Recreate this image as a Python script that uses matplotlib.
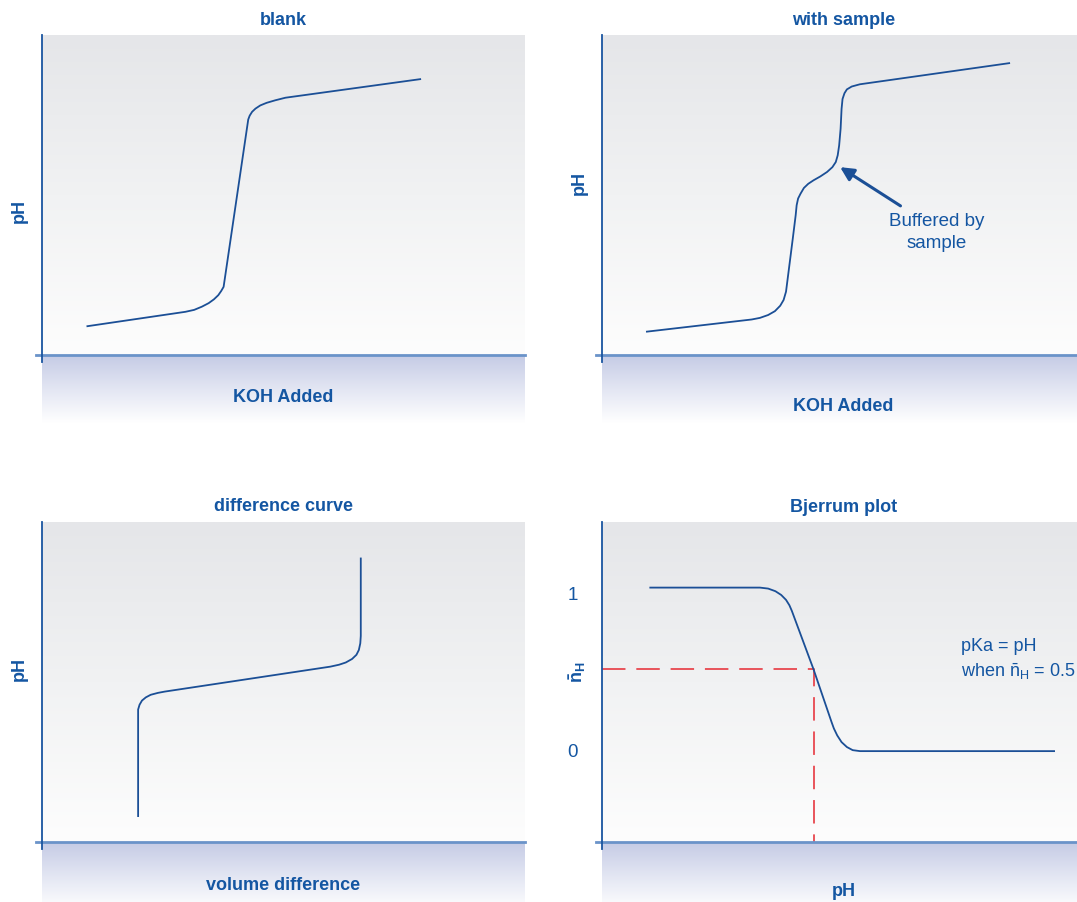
import numpy as np
import matplotlib
matplotlib.use("Agg")
import matplotlib.pyplot as plt
from matplotlib.lines import Line2D
from matplotlib.colors import LinearSegmentedColormap

plt.rcParams['font.family'] = ['Liberation Sans', 'DejaVu Sans']
plt.rcParams['mathtext.fontset'] = 'custom'
plt.rcParams['mathtext.rm'] = 'Liberation Sans'
plt.rcParams['mathtext.it'] = 'Liberation Sans'
plt.rcParams['mathtext.bf'] = 'Liberation Sans:bold'

# titration curves, arbitrary units (0-100 on both axes)
blank_x = [9.4, 29.7, 31.5, 33.1, 34.5, 35.6, 36.5, 37.1, 37.6,
           42.7, 43.0, 43.5, 44.2, 45.2, 46.5, 48.3, 50.4, 78.3]
blank_y = [9.0, 13.5, 14.1, 15.1, 16.2, 17.4, 18.7, 20.0, 21.3,
           73.6, 74.8, 76.0, 77.0, 78.0, 78.8, 79.6, 80.4, 86.2]

sample_x = [9.3, 31.0, 32.7, 34.4, 35.8, 36.9, 37.6, 38.1, 38.8, 39.5, 40.1, 40.3,
            40.6, 41.1, 41.8, 42.7, 43.8, 45.2, 46.6, 47.7, 48.4, 48.8, 49.1, 49.4,
            49.6, 49.8, 50.2, 50.7, 51.7, 53.4, 84.3]
sample_y = [7.3, 11.1, 11.6, 12.5, 13.7, 15.4, 17.2, 19.8, 28.1, 36.4, 43.7, 46.8,
            48.9, 50.4, 52.2, 53.5, 54.6, 55.8, 57.2, 58.7, 60.3, 62.4, 65.5, 70.7,
            76.9, 80.0, 81.8, 83.0, 83.9, 84.6, 91.2]

diff_x = [19.9, 19.9, 19.9, 20.2, 20.7, 21.5, 22.5, 24.0, 25.4, 59.7, 61.5, 62.9,
          64.2, 65.1, 65.6, 65.9, 66.0, 66.0]
diff_y = [8.1, 39.5, 41.4, 42.9, 44.2, 45.2, 46.0, 46.6, 47.0, 54.8, 55.4, 56.1,
          57.2, 58.5, 60.0, 62.1, 64.4, 88.6]

# Bjerrum plot: average protonation vs pH
bjerrum_x = [10.0, 32.7, 34.4, 35.9, 37.1, 38.1, 38.8, 39.3, 43.8, 47.5, 48.0,
             48.7, 49.6, 50.7, 51.9, 53.4, 93.6]
bjerrum_nh = [1.0, 1.0, 0.994, 0.978, 0.955, 0.925, 0.892, 0.858, 0.5, 0.18, 0.139,
              0.096, 0.055, 0.025, 0.006, 0.0, 0.0]
pka_x = 43.8
half_nh = 0.5

buffer_point = (49.3, 58.7)

TXT = '#1456a2'
LINE = '#1b4f96'
SPINE = '#1a55a0'
AXLINE = '#6a93c9'
RED = '#e8474f'

W, H = 1077, 903
fig = plt.figure(figsize=(W / 100, H / 100), dpi=100)
fig.patch.set_facecolor('white')

gray_cmap = LinearSegmentedColormap.from_list('g', ['#fdfdfd', '#f1f2f3', '#e5e6e9'])
band_cmap = LinearSegmentedColormap.from_list('b', ['#ffffff', '#e3e6f3', '#c5cbe5'])
grad = np.linspace(0, 1, 256).reshape(-1, 1)


def fx(px):
    return px / W


def fy(py):
    return 1 - py / H


def panel(left, axis_y, title, title_y, xlabel, xlabel_y, ylabel, ylabel_xy, ylim=(0, 100)):
    ax = fig.add_axes([fx(left), fy(axis_y), 483 / W, 320 / H])
    ax.set_xlim(0, 100)
    ax.set_ylim(*ylim)
    ax.imshow(grad, cmap=gray_cmap, extent=(0, 1, 0, 1), transform=ax.transAxes,
              aspect='auto', origin='lower', zorder=0)
    for s in ax.spines.values():
        s.set_visible(False)
    ax.set_xticks([])
    ax.set_yticks([])

    # shaded band under the x axis
    band = fig.add_axes([fx(left), fy(axis_y + 68), 483 / W, 68 / H])
    band.imshow(grad, cmap=band_cmap, extent=(0, 1, 0, 1), aspect='auto', origin='lower')
    band.set_axis_off()

    fig.add_artist(Line2D([fx(left - 6), fx(left + 483)], [fy(axis_y), fy(axis_y)],
                          color=AXLINE, lw=2.0, transform=fig.transFigure, zorder=5))
    fig.add_artist(Line2D([fx(left), fx(left)], [fy(axis_y - 320), fy(axis_y + 7)],
                          color=SPINE, lw=1.3, transform=fig.transFigure, zorder=6))

    cx = left + 241.5
    fig.text(fx(cx), fy(title_y), title, ha='center', va='center', fontsize=13,
             fontweight='bold', color=TXT)
    fig.text(fx(cx), fy(xlabel_y), xlabel, ha='center', va='center', fontsize=13,
             fontweight='bold', color=TXT, zorder=7)
    fig.text(fx(ylabel_xy[0]), fy(ylabel_xy[1]), ylabel, ha='center', va='center',
             fontsize=13, fontweight='bold', color=TXT, rotation=90)
    return ax


ax1 = panel(42, 356, 'blank', 20.5, 'KOH Added', 398, 'pH', (19, 211))
ax1.plot(blank_x, blank_y, color=LINE, lw=1.3, solid_joinstyle='round')

ax2 = panel(602, 356, 'with sample', 20.5, 'KOH Added', 407, 'pH', (579, 183))
ax2.plot(sample_x, sample_y, color=LINE, lw=1.3, solid_joinstyle='round')
ax2.annotate('', xy=buffer_point, xytext=(61.8, 46.6),
             arrowprops=dict(arrowstyle='-|>', color=LINE, lw=2.2, mutation_scale=20,
                             shrinkA=0, shrinkB=0))
ax2.text(69.3, 38.6, 'Buffered by\nsample', ha='center', va='center', fontsize=13.5,
         color=TXT, linespacing=1.35)

ax3 = panel(42, 843, 'difference curve', 507, 'volume difference', 886, 'pH', (19, 669))
ax3.plot(diff_x, diff_y, color=LINE, lw=1.3, solid_joinstyle='round')

# n_H = 0 sits at 28.4% of the height, n_H = 1 at 79.5%
lo = -0.284 / 0.511
hi = (1 - 0.284) / 0.511
ax4 = panel(602, 843, 'Bjerrum plot', 507, 'pH', 892, r'$\mathbf{\bar{n}_H}$', (578, 672),
            ylim=(lo, hi))
ax4.plot(bjerrum_x, bjerrum_nh, color=LINE, lw=1.3, solid_joinstyle='round', zorder=3)
ax4.plot([0, pka_x, pka_x], [half_nh, half_nh, lo], color=RED, lw=1.3,
         dashes=(13, 6), zorder=2, clip_on=False)
for v, off in ((0, 0.005), (1, 0.045)):
    ax4.text(-0.05, v - off, str(v), transform=ax4.get_yaxis_transform(), ha='right',
             va='center', fontsize=13.5, color=TXT)
ax4.text(74.4, 0.645, 'pKa = pH', ha='left', va='center', fontsize=13, color=TXT)
ax4.text(74.4, 0.49, r'when $\bar{\mathrm{n}}_{\mathrm{H}}$ = 0.5', ha='left', va='center',
         fontsize=13, color=TXT)

fig.savefig('out.png', dpi=100, facecolor='white')
